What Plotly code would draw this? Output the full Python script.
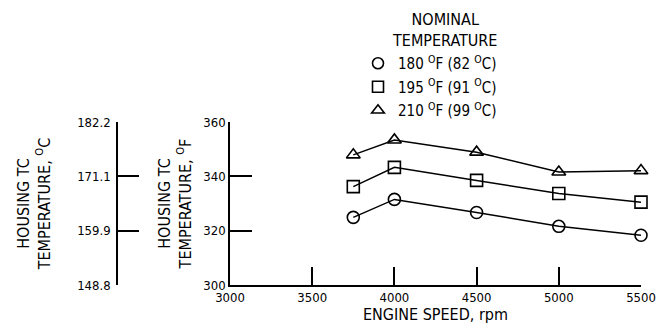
import plotly.graph_objects as go

speed = [3750, 4000, 4500, 5000, 5500]
t180 = [324.9, 331.5, 326.7, 321.6, 318.3]
t195 = [336.2, 343.3, 338.5, 333.7, 330.5]
t210 = [347.9, 353.4, 348.9, 341.6, 342.1]
names = ["180 <sup>O</sup>F (82 <sup>O</sup>C)",
         "195 <sup>O</sup>F (91 <sup>O</sup>C)",
         "210 <sup>O</sup>F (99 <sup>O</sup>C)"]
symbols = ["circle-open", "square-open", "triangle-up-open"]
x_ticks = [3000, 3500, 4000, 4500, 5000, 5500]
f_ticks = [300, 320, 340, 360]
c_ticks = [148.8, 159.9, 171.1, 182.2]
c_labels = ["148.8", "159.9", "171.1", "182.2"]

FONT = "DejaVu Sans Condensed, Liberation Sans Narrow, sans-serif"

fig = go.Figure()
for ys, nm, sym in zip([t180, t195, t210], names, symbols):
    fig.add_trace(go.Scatter(
        x=speed, y=ys, mode="lines+markers", showlegend=False,
        line=dict(color="black", width=1.5),
        marker=dict(symbol=sym, size=12, color="black", line=dict(color="black", width=1.6)),
        cliponaxis=False))
for i, (nm, sym) in enumerate(zip(names, symbols)):
    fig.add_trace(go.Scatter(
        x=[None], y=[None], mode="markers", name=nm, legendgroup=f"g{i}",
        marker=dict(symbol=sym, size=11, color="black", line=dict(color="black", width=1.6))))
fig.add_trace(go.Scatter(x=[None], y=[None], yaxis="y2", showlegend=False))

L = 10
W = 669 - L - 28
H = 334
T, B = 122, 49
PH = H - T - B
fig.update_layout(
    width=669, height=334,
    margin=dict(l=L, r=28, t=T, b=B, autoexpand=False),
    paper_bgcolor="white", plot_bgcolor="white",
    font=dict(family=FONT, size=13, color="black"),
    xaxis=dict(domain=[(230 - L) / W, 1], range=[3000, 5500], tickvals=x_ticks, automargin=False,
               showline=True, linecolor="black", linewidth=1.5, ticks="inside",
               ticklen=18, tickwidth=1.5, tickcolor="black", showgrid=False, zeroline=False,
               title=dict(text="ENGINE SPEED, rpm", standoff=0)),
    yaxis=dict(range=[300, 360], tickvals=f_ticks, anchor="x", automargin=False,
               showline=True, linecolor="black", linewidth=1.5, ticks="inside",
               ticklen=22, tickwidth=1.5, tickcolor="black", showgrid=False, zeroline=False,
               title=dict(text="HOUSING TC<br>TEMPERATURE, <sup>O</sup>F", standoff=8)),
    yaxis2=dict(range=[148.8, 182.2], tickvals=c_ticks, ticktext=c_labels, automargin=False,
                overlaying="y", anchor="free", position=(117 - L) / W, side="left",
                showline=True, linecolor="black", linewidth=1.5, ticks="inside",
                ticklen=21, tickwidth=1.5, tickcolor="black", showgrid=False, zeroline=False,
                ticklabelstandoff=3,
                title=dict(text="HOUSING TC<br>TEMPERATURE, <sup>O</sup>C", standoff=22)),
    legend=dict(x=(358 - L) / W, y=1 - 47 / H, xanchor="left", yanchor="top", yref="container",
                bgcolor="rgba(0,0,0,0)", font=dict(size=15), itemwidth=30, tracegroupgap=1),
    annotations=[dict(text="NOMINAL<br>TEMPERATURE", x=(445 - L) / W, y=(H - B - 8) / PH,
                      xref="paper", yref="paper", xanchor="center", yanchor="top",
                      align="center", showarrow=False, font=dict(size=16))],
)
fig.write_html("out.html")
